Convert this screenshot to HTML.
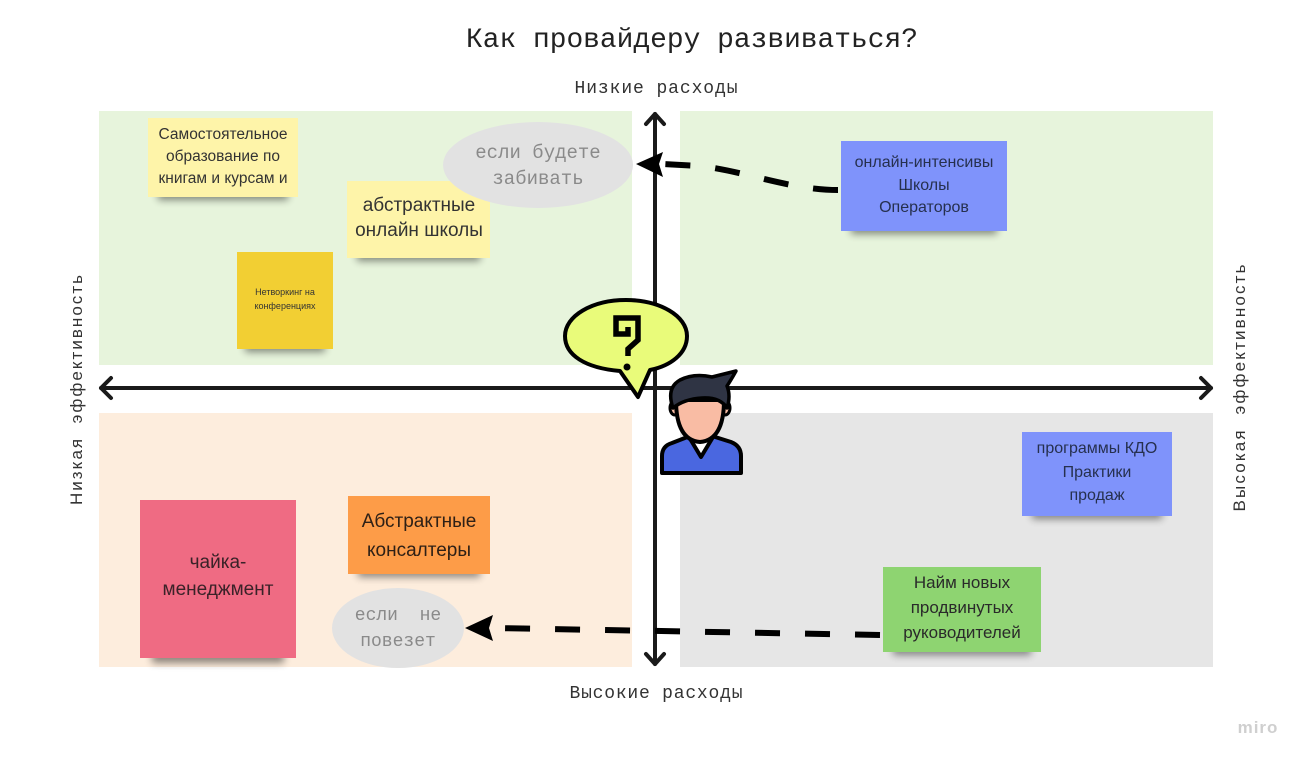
<!DOCTYPE html>
<html><head><meta charset="utf-8"><style>
html,body{margin:0;padding:0;background:#fff;}
svg{display:block;}
.st{font-family:"Liberation Sans","DejaVu Sans",sans-serif;text-anchor:middle;}
.mono{font-family:"Liberation Mono","DejaVu Sans Mono",monospace;text-anchor:middle;}
</style></head><body>
<svg width="1307" height="764" viewBox="0 0 1307 764" xmlns="http://www.w3.org/2000/svg">
<defs>
<filter id="sh" x="-20%" y="-100%" width="140%" height="300%"><feGaussianBlur stdDeviation="4"/></filter>
</defs>
<rect width="1307" height="764" fill="#fff"/>
<!-- quadrants -->
<rect x="99" y="111" width="533" height="254" fill="#e7f4dc"/>
<rect x="680" y="111" width="533" height="254" fill="#e7f4dc"/>
<rect x="99" y="413" width="533" height="254" fill="#fdeddd"/>
<rect x="680" y="413" width="533" height="254" fill="#e6e6e6"/>

<!-- title & labels -->
<text class="mono" x="692" y="47" font-size="28" fill="#222" textLength="452" lengthAdjust="spacingAndGlyphs">Как провайдеру развиваться?</text>
<text class="mono" x="656" y="93" font-size="18" fill="#333" textLength="163" lengthAdjust="spacing">Низкие расходы</text>
<text class="mono" x="656" y="698" font-size="18" fill="#333" textLength="173" lengthAdjust="spacing">Высокие расходы</text>
<text class="st" transform="translate(82,390) rotate(-90)" font-size="17" fill="#333" textLength="230" lengthAdjust="spacing" xml:space="preserve">Низкая  эффективность</text>
<text class="st" transform="translate(1245,388) rotate(-90)" font-size="17" fill="#333" textLength="247" lengthAdjust="spacing" xml:space="preserve">Высокая  эффективность</text>
<text x="1258" y="733" font-family="Liberation Sans, DejaVu Sans, sans-serif" font-size="17" font-weight="bold" fill="#cfcfcf" text-anchor="middle" letter-spacing="1">miro</text>

<!-- shadows -->
<g fill="#000" opacity="0.45" filter="url(#sh)">
<rect x="158" y="190" width="130" height="10"/>
<rect x="357" y="251" width="123" height="10"/>
<rect x="245" y="342" width="80" height="10"/>
<rect x="851" y="224" width="146" height="10"/>
<rect x="1032" y="509" width="130" height="10"/>
<rect x="893" y="645" width="138" height="10"/>
<rect x="152" y="651" width="132" height="12"/>
<rect x="358" y="567" width="122" height="10"/>
</g>

<!-- stickies -->
<rect x="148" y="118" width="150" height="79" fill="#fef4a9"/>
<text class="st" font-size="15.5" fill="#333"><tspan x="223" y="139">Самостоятельное</tspan><tspan x="223" y="161">образование по</tspan><tspan x="223" y="183">книгам и курсам и</tspan></text>

<rect x="347" y="181" width="143" height="77" fill="#fef4a9"/>
<text class="st" font-size="19" fill="#333"><tspan x="419" y="211">абстрактные</tspan><tspan x="419" y="236">онлайн школы</tspan></text>

<rect x="237" y="252" width="96" height="97" fill="#f2cf33"/>
<text class="st" font-size="9" fill="#333"><tspan x="285" y="295">Нетворкинг на</tspan><tspan x="285" y="309">конференциях</tspan></text>

<rect x="841" y="141" width="166" height="90" fill="#7f93fb"/>
<text class="st" font-size="16" fill="#26304e"><tspan x="924" y="167">онлайн-интенсивы</tspan><tspan x="924" y="190">Школы</tspan><tspan x="924" y="212">Операторов</tspan></text>

<rect x="1022" y="432" width="150" height="84" fill="#7f93fb"/>
<text class="st" font-size="16" fill="#26304e"><tspan x="1097" y="453">программы КДО</tspan><tspan x="1097" y="477">Практики</tspan><tspan x="1097" y="500">продаж</tspan></text>

<rect x="883" y="567" width="158" height="85" fill="#8ed471"/>
<text class="st" font-size="17" fill="#2a2a2a"><tspan x="962" y="588">Найм новых</tspan><tspan x="962" y="613">продвинутых</tspan><tspan x="962" y="638">руководителей</tspan></text>

<rect x="140" y="500" width="156" height="158" fill="#ef6b83"/>
<text class="st" font-size="19" fill="#3a2228"><tspan x="218" y="568">чайка-</tspan><tspan x="218" y="595">менеджмент</tspan></text>

<rect x="348" y="496" width="142" height="78" fill="#fd9c48"/>
<text class="st" font-size="19" fill="#2e2016"><tspan x="419" y="527">Абстрактные</tspan><tspan x="419" y="556">консалтеры</tspan></text>

<!-- ellipses -->
<ellipse cx="538" cy="165" rx="95" ry="43" fill="#e2e2e2"/>
<text class="mono" font-size="19" fill="#8a8a8a"><tspan x="538" y="158">если будете</tspan><tspan x="538" y="184">забивать</tspan></text>
<ellipse cx="398" cy="628" rx="66" ry="40" fill="#e2e2e2"/>
<text class="mono" font-size="18" fill="#8a8a8a" xml:space="preserve"><tspan x="398" y="620">если  не</tspan><tspan x="398" y="646">повезет</tspan></text>

<!-- axes -->
<g stroke="#1a1a1a" stroke-width="4" fill="none" stroke-linecap="round" stroke-linejoin="round">
<line x1="101" y1="388" x2="1211" y2="388"/>
<polyline points="111,378 101,388 111,398"/>
<polyline points="1201,378 1211,388 1201,398"/>
<line x1="655" y1="114" x2="655" y2="664"/>
<polyline points="646,124 655,114 664,124"/>
<polyline points="646,654 655,664 664,654"/>
</g>

<!-- dashed connectors -->
<g stroke="#000" stroke-width="6" fill="none" stroke-dasharray="25 25">
<path d="M838,190 C790,190 745,171 700,166 L662,164"/>
<path d="M880,635 L493,628"/>
</g>
<polygon points="636,164 663,152 659,164 663,177" fill="#000"/>
<polygon points="465,628 493,615 489,628 493,641" fill="#000"/>

<!-- speech bubble -->
<path d="M620,371 C585,368 565,355 565,336 C565,316 592,300 626,300 C660,300 687,316 687,336 C687,354 670,366 650,370 L638,397 Z" fill="#e9fb7a" stroke="#000" stroke-width="4" stroke-linejoin="round"/>
<path d="M628,327 L628,334 L616,334 L616,318 L638,318 L638,340 L628,349 L628,356" fill="none" stroke="#000" stroke-width="5.5" stroke-linejoin="miter"/>
<circle cx="627" cy="367" r="3.5" fill="#000"/>

<!-- person -->
<path d="M662,473 L662,456 Q662,446 672,443 L690,436 L712,436 L731,442 Q741,446 741,456 L741,473 Z" fill="#4a67e0" stroke="#000" stroke-width="4" stroke-linejoin="round"/>
<path d="M690,437 L701,456 L712,437 Z" fill="#fff"/>
<polyline points="689,437 701,457 713,437" fill="none" stroke="#000" stroke-width="4" stroke-linejoin="round"/>
<ellipse cx="675" cy="408" rx="5" ry="7" fill="#f9bca4" stroke="#000" stroke-width="3"/>
<ellipse cx="725" cy="408" rx="5" ry="7" fill="#f9bca4" stroke="#000" stroke-width="3"/>
<path d="M676,400 Q676,440 700,442 Q724,440 724,400 Z" fill="#f9bca4" stroke="#000" stroke-width="4" stroke-linejoin="round"/>
<path d="M673,408 Q666,388 680,380 Q694,373 712,377 L736,371 Q731,380 727,386 Q731,396 727,408 Q720,397 702,398 Q684,399 673,408 Z" fill="#2f3444" stroke="#000" stroke-width="3.5" stroke-linejoin="round"/>
</svg>
</body></html>
